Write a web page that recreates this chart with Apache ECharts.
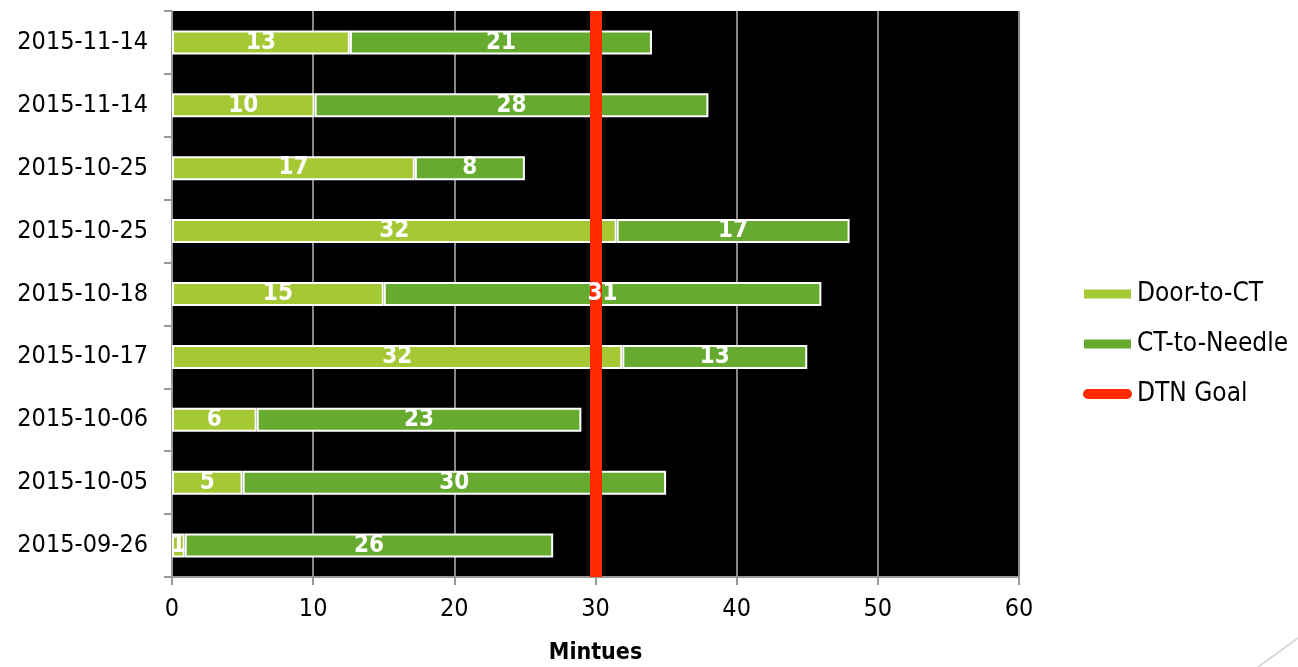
<!DOCTYPE html>
<html>
<head>
<meta charset="utf-8">
<script src="https://cdn.jsdelivr.net/npm/echarts@6/dist/echarts.min.js"></script>
<style>
html,body{margin:0;padding:0;background:#fff;}
#chart{width:1298px;height:667px;}
</style>
</head>
<body>
<div id="chart"></div>
<script>
const categories = ['2015-11-14','2015-11-14','2015-10-25','2015-10-25','2015-10-18','2015-10-17','2015-10-06','2015-10-05','2015-09-26'];
const doorToCT = [12.6, 10.1, 17.2, 31.5, 15, 31.9, 6, 5, 0.9];
const ctToNeedle = [21.4, 27.9, 7.8, 16.5, 31, 13.1, 23, 30, 26.1];
const dtnGoal = 30;
const xTicks = [0, 10, 20, 30, 40, 50, 60];

const FONT = '"DejaVu Sans Condensed", "DejaVu Sans", sans-serif';
const LIGHT = '#a5c934';
const DARK = '#66ab30';
const RED = '#ff2a00';

const chart = echarts.init(document.getElementById('chart'));
const lbl = {
  show: true, position: 'inside', color: '#fff', fontFamily: FONT,
  fontWeight: 'bold', fontSize: 24,
  formatter: p => Math.round(p.value)
};
chart.setOption({
  animation: false,
  backgroundColor: '#fff',
  grid: {left: 172, right: 279, top: 11, bottom: 90, show: true, backgroundColor: '#000', borderWidth: 0,
         containLabel: false, outerBoundsMode: 'none'},
  legend: {
    orient: 'vertical', left: 1082, top: 281, padding: 0, itemWidth: 49, itemHeight: 11, itemGap: 24,
    textStyle: {fontFamily: FONT, fontSize: 26, color: '#000', lineHeight: 26},
    data: [
      {name: 'Door-to-CT', icon: 'rect'},
      {name: 'CT-to-Needle', icon: 'rect'},
      {name: 'DTN Goal', icon: 'path://M6,0 L54,0 A6,6 0 0 1 54,12 L6,12 A6,6 0 0 1 6,0 Z'}
    ]
  },
  xAxis: {
    type: 'value', min: xTicks[0], max: xTicks[xTicks.length - 1], interval: 10,
    name: 'Mintues', nameLocation: 'middle', nameGap: 65,
    nameTextStyle: {fontFamily: FONT, fontSize: 23, fontWeight: 'bold', color: '#000'},
    axisLine: {show: true, lineStyle: {color: '#999', width: 2}},
    axisTick: {show: true, length: 8, lineStyle: {color: '#999', width: 2}},
    axisLabel: {fontFamily: FONT, fontSize: 25, color: '#000', margin: 20},
    splitLine: {show: true, lineStyle: {color: '#888', width: 2}}
  },
  yAxis: {
    type: 'category', inverse: true, data: categories,
    axisLine: {show: true, lineStyle: {color: '#999', width: 2}},
    axisTick: {show: true, length: 8, lineStyle: {color: '#999', width: 2}},
    axisLabel: {fontFamily: FONT, fontSize: 25, color: '#000', margin: 24},
    splitLine: {show: false}
  },
  series: [
    {name: 'Door-to-CT', type: 'bar', stack: 'a', barWidth: 24, barGap: '-100%', z: 2,
     itemStyle: {color: LIGHT, borderColor: '#fff', borderWidth: 2}, data: doorToCT},
    {name: 'CT-to-Needle', type: 'bar', stack: 'a', barWidth: 24, barGap: '-100%', z: 2,
     itemStyle: {color: DARK, borderColor: '#fff', borderWidth: 2}, data: ctToNeedle},
    {name: 'DTN Goal', type: 'line', data: [], z: 3, color: RED, itemStyle: {color: RED},
     lineStyle: {color: RED, width: 12},
     markLine: {silent: true, z: 3, symbol: 'none', label: {show: false},
       lineStyle: {color: RED, width: 12, type: 'solid'}, data: [{xAxis: dtnGoal}]}},
    {name: 'lbl1', type: 'bar', stack: 'b', barWidth: 24, barGap: '-100%', z: 6,
     itemStyle: {color: 'rgba(0,0,0,0)'}, label: lbl, data: doorToCT},
    {name: 'lbl2', type: 'bar', stack: 'b', barWidth: 24, barGap: '-100%', z: 6,
     itemStyle: {color: 'rgba(0,0,0,0)'}, label: lbl, data: ctToNeedle}
  ],
  graphic: [{type: 'line', shape: {x1: 1258, y1: 667, x2: 1298, y2: 638},
    style: {stroke: '#d9d9d9', lineWidth: 2}}]
});
</script>
</body>
</html>
